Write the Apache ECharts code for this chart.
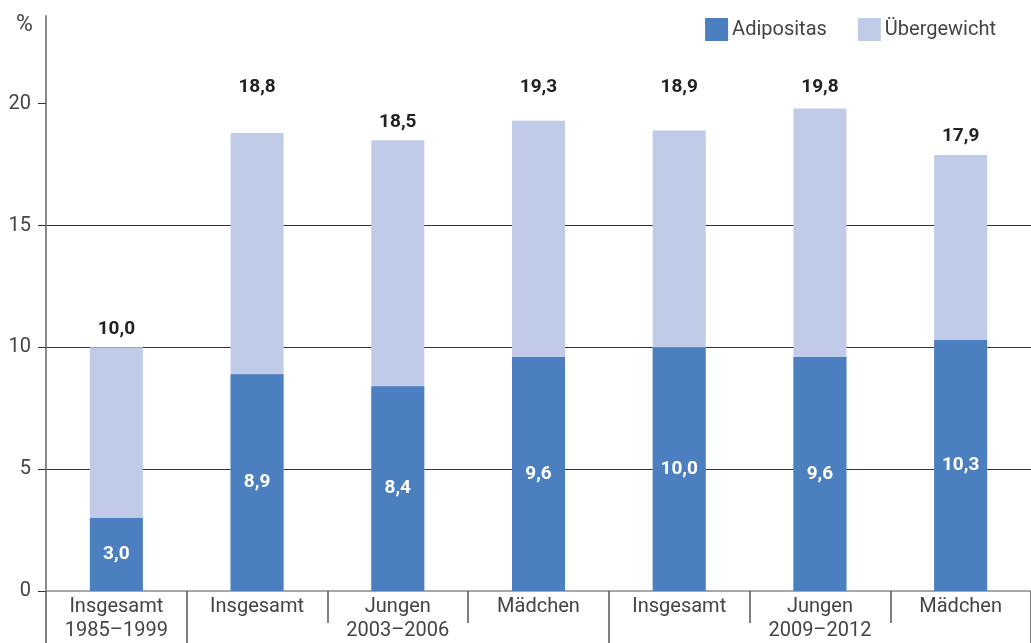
<!DOCTYPE html>
<html>
<head>
<meta charset="utf-8">
<script src="https://cdn.jsdelivr.net/npm/echarts@6/dist/echarts.min.js"></script>
<style>
  html, body { margin: 0; padding: 0; background: #fff; }
  #chart { width: 1031px; height: 643px; }
</style>
</head>
<body>
<div id="chart"></div>
<script>
// Prevalence of overweight and obesity among children, by survey period
const categories = ['Insgesamt', 'Insgesamt', 'Jungen', 'Mädchen', 'Insgesamt', 'Jungen', 'Mädchen'];
const periods = ['1985–1999', '', '2003–2006', '', '', '2009–2012', ''];
const adipositas = [3.0, 8.9, 8.4, 9.6, 10.0, 9.6, 10.3];
const uebergewicht = [10.0, 18.8, 18.5, 19.3, 18.9, 19.8, 17.9];
const yTicks = [0, 5, 10, 15, 20];
// categories where a new survey period starts (long separator ticks)
const groupStarts = [0, 1, 4];

const FONT = 'Roboto, "Liberation Sans", sans-serif';
const LABEL_SIZE = 19;
const fmt = v => v.toFixed(1).replace('.', ',');

const chart = echarts.init(document.getElementById('chart'));

function buildOption(topOffsets) {
  return {
    animation: false,
    textStyle: { fontFamily: FONT },
    title: {
      text: '%', left: 11, top: 9,
      textStyle: { fontFamily: FONT, fontSize: 23, fontWeight: 'normal', color: '#444' }
    },
    legend: {
      data: ['Adipositas', 'Übergewicht'],
      right: 30, top: 13,
      icon: 'rect', itemWidth: 23, itemHeight: 23, itemGap: 31,
      textStyle: { fontFamily: FONT, fontSize: 20, color: '#444', padding: [0, 0, 0, -1] }
    },
    grid: { left: 46, right: 0, top: 16, bottom: 47, containLabel: false },
    yAxis: {
      type: 'value', min: 0, max: 23.6, interval: 5,
      axisLine: { show: true, lineStyle: { color: '#8a8a8a', width: 2 } },
      axisTick: { show: true, length: 8, customValues: yTicks, lineStyle: { color: '#333' } },
      axisLabel: { customValues: yTicks, fontFamily: FONT, fontSize: 20, color: '#444', margin: 15 },
      splitLine: { show: true, showMinLine: false, showMaxLine: false, lineStyle: { color: '#333', width: 1 } }
    },
    xAxis: [{
      type: 'category', data: categories,
      axisLine: { show: true, lineStyle: { color: '#8a8a8a', width: 1.5 } },
      axisTick: { show: true, interval: 0, length: 32, lineStyle: { color: '#555', width: 1.5 } },
      axisLabel: {
        interval: 0, fontFamily: FONT, fontSize: 20, color: '#444', lineHeight: 24, margin: 4,
        formatter: (v, i) => periods[i] ? v + '\n' + periods[i] : v
      }
    }, {
      type: 'category', data: categories, position: 'bottom',
      axisLine: { show: false },
      axisLabel: { show: false },
      axisTick: {
        show: true, length: 60, lineStyle: { color: '#555', width: 1.5 },
        interval: i => groupStarts.indexOf(i) >= 0
      }
    }],
    series: [{
      name: 'Übergewicht', type: 'bar', xAxisIndex: 0,
      barWidth: 53, barGap: '-100%',
      itemStyle: { color: '#c0cbe8' },
      data: uebergewicht.map((v, i) => ({
        value: v,
        label: { offset: [0, topOffsets[i] || 0] }
      })),
      label: {
        show: true, position: 'top', distance: 9,
        fontFamily: FONT, fontSize: LABEL_SIZE, fontWeight: 'bold', color: '#222',
        formatter: p => fmt(p.value)
      }
    }, {
      name: 'Adipositas', type: 'bar', xAxisIndex: 0,
      barWidth: 53, barGap: '-100%',
      itemStyle: { color: '#4c7fc0' },
      data: adipositas,
      label: {
        show: true, position: 'inside',
        fontFamily: FONT, fontSize: LABEL_SIZE, fontWeight: 'bold', color: '#fff',
        formatter: p => fmt(p.value)
      }
    }]
  };
}

chart.setOption(buildOption([]));

// Lift total labels that would collide with the 20 % grid line above it
const y20 = chart.convertToPixel({ yAxisIndex: 0 }, 20);
const offsets = uebergewicht.map(v => {
  const top = chart.convertToPixel({ yAxisIndex: 0 }, v);
  const labelTop = top - 9 - LABEL_SIZE;
  if (labelTop < y20 + 4) {
    const wantedCenter = y20 - 16;
    const defaultCenter = top - 9 - LABEL_SIZE / 2;
    return wantedCenter - defaultCenter;
  }
  return 0;
});
chart.setOption(buildOption(offsets));
</script>
</body>
</html>
